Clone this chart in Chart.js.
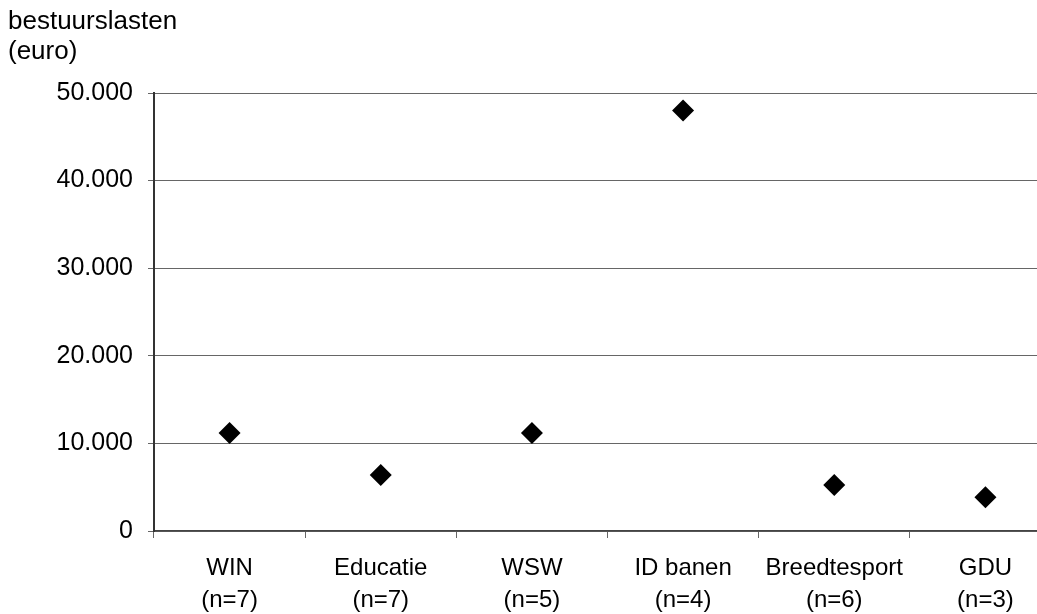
<!DOCTYPE html>
<html>
<head>
<meta charset="utf-8">
<script src="https://cdn.jsdelivr.net/npm/chart.js@4/dist/chart.umd.min.js"></script>
<style>
  html, body { margin: 0; padding: 0; background: #fff; overflow: hidden; }
  #wrap { width: 1037px; height: 614px; overflow: hidden; }
</style>
</head>
<body>
<div id="wrap"><canvas id="chart-bestuur" width="1072" height="614"></canvas></div>
<script>
// categories with number of cases
const categories = ["WIN", "Educatie", "WSW", "ID banen", "Breedtesport", "GDU"];
const counts = [7, 7, 5, 4, 6, 3];
// bestuurslasten per category (euro)
const bestuurslasten = [11200, 6400, 11200, 48000, 5250, 3850];
const yTicks = [0, 10000, 20000, 30000, 40000, 50000];

const labels = categories.map((c, i) => [c, "(n=" + counts[i] + ")"]);

// 10000 -> "10.000"
function formatEuro(v) {
  return String(v).replace(/\B(?=(\d{3})+(?!\d))/g, ".");
}

const family = "'Liberation Sans', Arial, sans-serif";

const ctx = document.getElementById("chart-bestuur");
new Chart(ctx, {
  type: "line",
  data: {
    labels: labels,
    datasets: [
      {
        data: bestuurslasten,
        showLine: false,
        pointStyle: "rectRot",
        pointRadius: 11,
        pointBorderWidth: 0,
        pointBackgroundColor: "#000",
        pointBorderColor: "#000",
      },
    ],
  },
  options: {
    responsive: false,
    animation: false,
    layout: { padding: { left: 8, right: 0, top: 0, bottom: 0 } },
    plugins: {
      legend: { display: false },
      tooltip: { enabled: false },
      title: {
        display: true,
        text: ["bestuurslasten", "(euro)"],
        align: "start",
        color: "#000",
        font: { family: family, size: 26, weight: "normal", lineHeight: 30 / 26 },
        padding: { top: 7, bottom: 26 },
      },
    },
    scales: {
      x: {
        offset: true,
        grid: {
          offset: true,
          drawOnChartArea: false,
          drawTicks: true,
          tickLength: 7,
          color: "#666",
        },
        border: { display: true, color: "#444", width: 1.5 },
        ticks: {
          color: "#000",
          font: { family: family, size: 24, lineHeight: 32 / 24 },
          padding: 14,
          maxRotation: 0,
          autoSkip: false,
        },
        afterFit: (scale) => {
          scale.height = 83;
        },
      },
      y: {
        min: 0,
        max: 50000,
        afterBuildTicks: (scale) => {
          scale.ticks = yTicks.map((v) => ({ value: v }));
        },
        grid: {
          color: "#666",
          drawTicks: true,
          tickLength: 6,
        },
        border: { display: true, color: "#333", width: 2 },
        ticks: {
          color: "#000",
          font: { family: family, size: 25 },
          padding: 15,
          callback: (v) => formatEuro(v),
        },
        afterFit: (scale) => {
          scale.width = 146;
        },
      },
    },
  },
});
</script>
</body>
</html>
